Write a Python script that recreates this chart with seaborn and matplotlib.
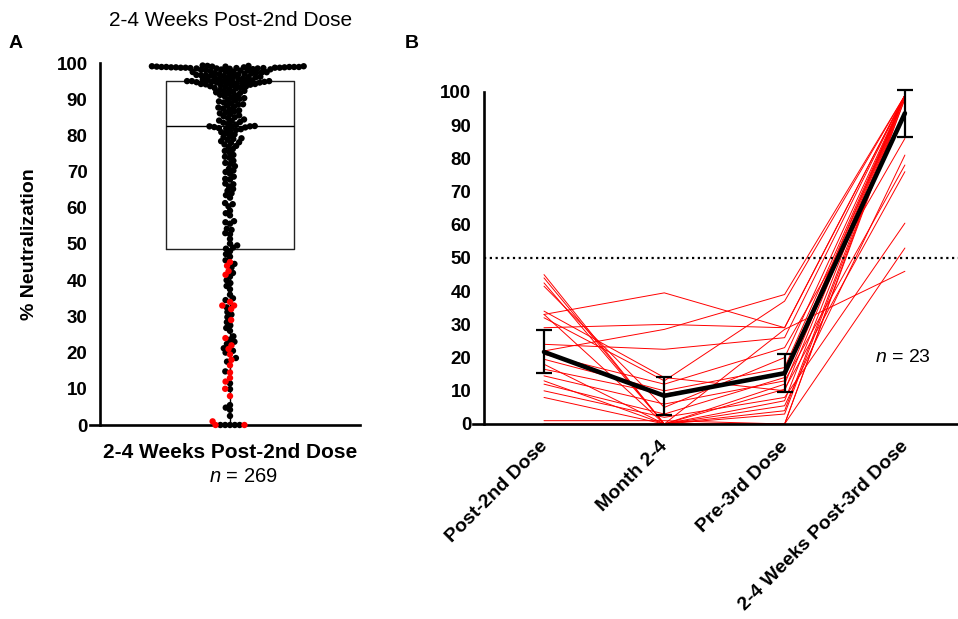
import numpy as np
import pandas as pd
import matplotlib
matplotlib.use("Agg")
import matplotlib.pyplot as plt
import seaborn as sns

sns.set_theme(style="white")
plt.rcParams["font.family"] = ["Liberation Sans", "DejaVu Sans"]
plt.rcParams["mathtext.fontset"] = "custom"
plt.rcParams["mathtext.it"] = "Liberation Sans:italic"
plt.rcParams["mathtext.rm"] = "Liberation Sans"
for key in ["text.color", "axes.labelcolor", "xtick.color", "ytick.color"]:
    plt.rcParams[key] = "black"

# ---------------- Panel B: longitudinal cohort (n = 23) ----------------
timepoints = ["Post-2nd Dose", "Month 2-4", "Pre-3rd Dose", "2-4 Weeks Post-3rd Dose"]
post2 = [45, 44, 42.5, 41.5, 34, 33, 33, 32, 29, 24, 22, 21,
         19.5, 18, 16.5, 14.5, 13, 12, 10, 8, 1, 0, 0]
month24 = [0, 0, 0, 5, 14, 0, 39.5, 13, 30, 22.5, 28.5, 12,
           10, 0, 9, 6, 0, 3, 2, 0, 1, 0, 0]
pre3 = [12, 7, 3, 20, 10, 0, 29, 37, 29, 26, 39, 23,
        17, 5.5, 15, 13, 10.5, 14, 8, 4, 0, 28.5, 0]
post3 = [99, 99, 98, 99, 99, 99, 99, 99, 99, 99, 99, 86,
         99, 81, 99, 78, 76, 99, 60.5, 99, 53, 46, 98]
mean_vals = [21.7, 8.5, 15.3, 93.6]
ci_low = [15.3, 2.8, 9.7, 86.5]
ci_high = [28.3, 14.1, 21.0, 100.7]

# ---------------- Panel A: all participants (n = 269) ----------------
# black points = participants not followed longitudinally, grouped by range
low_vals = [0, 0, 0, 0, 0,
            2.5, 4.2, 4.8, 5.5, 9.9,
            11.5, 14.8, 17.5, 18.5, 20.0,
            20.5, 21.2, 22.4, 23.0, 23.6, 24.5, 26.0, 26.8, 27.5, 28.4, 29.8,
            30.5, 31.2, 32.5, 34.5, 35.0, 36.0, 37.5, 38.4, 39.2, 40.0,
            41.0, 42.0, 43.5, 44.5, 45.5, 46.5, 47.2, 48.0]
mid_vals = [48.7,
            49.0, 49.6, 50.1, 51.4, 52.7, 53.0, 53.9, 54.2, 55.6, 56.0, 56.3,
            57.9, 58.5, 59.2, 60.4, 61.0, 61.3, 62.8,
            63.5, 64.0, 64.7, 65.2, 65.9, 66.5, 66.7, 67.8, 68.0, 68.6, 69.4,
            69.9, 70.3, 70.8, 71.5, 72.1, 72.4, 73.0,
            73.8, 74.1, 74.6, 75.3, 75.7, 76.2, 76.8, 77.1, 77.5, 77.9, 78.4,
            78.8, 79.2, 79.5, 79.9, 80.3, 80.6, 80.9, 81.2, 81.5, 81.7, 81.9,
            82.0, 82.2, 82.3, 82.4, 82.5, 82.5, 79.0, 78.1]
high_vals = [82.6,
             83.0, 83.2, 83.5, 83.7, 84.0, 84.1, 84.4, 84.8, 85.0, 85.3, 85.5,
             85.9, 86.1, 86.4, 86.6, 86.9, 87.2, 87.4, 87.7, 87.9, 88.2, 88.5,
             88.6, 88.9, 89.1, 89.4, 89.6, 89.8, 90.1, 90.3, 90.5, 90.8, 91.0,
             91.2, 91.5, 91.7, 91.9, 92.1, 92.3, 92.6, 92.8, 93.0, 93.1, 93.3,
             93.5, 93.6, 93.8, 93.9, 94.0, 94.1, 94.2, 94.3, 94.4, 94.5, 94.6,
             94.6, 94.7, 94.8, 94.8, 94.9, 94.9, 95.0, 95.0, 94.2, 93.4, 92.0]
upper_vals = [95.0,
              95.1, 95.3, 95.4, 95.6, 95.7, 95.9, 96.0, 96.1, 96.3, 96.4,
              96.6, 96.7, 96.9, 97.0, 97.1, 97.3, 97.4, 97.5, 97.7, 97.8,
              97.9, 98.0, 98.2, 95.2, 95.8, 96.2, 96.5, 96.8, 97.2, 97.6,
              98.1, 98.3, 95.5, 96.95, 97.45, 97.95, 96.55, 98.25]
top_vals = [98.9, 98.7, 99.1, 98.5, 98.8, 99.0, 98.6, 98.9, 99.2, 98.4,
            98.7, 98.8, 99.0, 98.9, 98.6, 99.1, 98.5, 98.7, 98.9, 99.3,
            98.6, 98.8, 99.0, 98.7, 98.9, 98.5, 99.2, 98.8]

group_label = "2-4 Weeks Post-2nd Dose"
black_vals = low_vals + mid_vals + high_vals + upper_vals + top_vals
df_a = pd.DataFrame({
    "group": group_label,
    "value": black_vals + post2,
    "cohort": ["other"] * len(black_vals) + ["longitudinal"] * len(post2),
})

df_b = pd.DataFrame({
    "subject": np.repeat(np.arange(len(post2)), len(timepoints)),
    "visit": np.tile(np.arange(len(timepoints)), len(post2)),
    "value": np.column_stack([post2, month24, pre3, post3]).ravel(),
})

W, H = 958, 619
fig = plt.figure(figsize=(W / 100, H / 100), dpi=100)


def fx(px):
    return px / W


def fy(py):
    return 1 - py / H


axA = fig.add_axes([fx(90), fy(425), (360 - 90) / W, (425 - 63) / H])
axB = fig.add_axes([fx(473), fy(424), (958 - 473) / W, (424 - 92) / H])

spine_w = 1.9
tick_kw = dict(direction="out", width=spine_w, length=7, color="black")

# ---- Panel A ----
sns.boxplot(data=df_a, x="group", y="value", width=0.474, whis=(0, 100),
            showcaps=False, showfliers=False, fill=False, color="#222222",
            linewidth=1.0, ax=axA,
            medianprops=dict(color="black", linewidth=1.0),
            whiskerprops=dict(color="black", linewidth=1.0))
n_before = len(axA.collections)
# the swarm is packed with a compact footprint, then drawn with larger dots
# so that dense regions overlap slightly
sns.swarmplot(data=df_a, x="group", y="value", hue="cohort",
              palette={"other": "black", "longitudinal": "#ff0000"},
              size=3.3, legend=False, ax=axA, zorder=3, clip_on=False)
swarm_colls = axA.collections[n_before:]

axA.set_xlim(-140 / 270, 130 / 270)
axA.set_ylim(0, 100)
axA.set_yticks(range(0, 101, 10))
for side in ["top", "right"]:
    axA.spines[side].set_visible(False)
axA.spines["left"].set_position(("axes", 10 / 270))
for side in ["left", "bottom"]:
    axA.spines[side].set_linewidth(spine_w)
    axA.spines[side].set_color("black")
axA.tick_params(axis="both", **tick_kw)
axA.tick_params(axis="y", labelsize=13.5, pad=2)
axA.tick_params(axis="x", labelbottom=False)
for lab in axA.get_yticklabels():
    lab.set_fontweight("bold")
axA.set_xlabel("")
axA.set_ylabel("% Neutralization", fontsize=14, fontweight="bold")
axA.yaxis.set_label_coords((38 - 90) / 270, 0.5)

fig.text(fx(231), fy(20), group_label, ha="center", va="center", fontsize=15)
fig.text(fx(230), fy(453), group_label, ha="center", va="center",
         fontsize=15, fontweight="bold")
fig.text(fx(243), fy(477), "$n$ = 269", ha="center", va="center", fontsize=14.5)
fig.text(fx(16), fy(43), "A", ha="center", va="center", fontsize=14, fontweight="bold")
fig.text(fx(412), fy(43), "B", ha="center", va="center", fontsize=14, fontweight="bold")

# ---- Panel B ----
pos = np.arange(len(timepoints))
sns.lineplot(data=df_b, x="visit", y="value", units="subject", estimator=None,
             sort=False, color="#ff0000", linewidth=0.7, ax=axB, clip_on=False)
sns.lineplot(x=pos, y=mean_vals, color="black", linewidth=3.3, ax=axB,
             zorder=4, clip_on=False)
axB.errorbar(pos, mean_vals,
             yerr=[np.subtract(mean_vals, ci_low), np.subtract(ci_high, mean_vals)],
             fmt="none", ecolor="black", elinewidth=1.6, capsize=6, capthick=1.6,
             zorder=5, clip_on=False)

x_left, x_right = (473 - 544) / 120.3, (958 - 544) / 120.3
spine_x = -0.5
axB.set_xlim(x_left, x_right)
axB.set_ylim(0, 100)
axB.axhline(50, xmin=(spine_x - x_left) / (x_right - x_left), xmax=1,
            color="black", linestyle=(0, (1, 1.6)), linewidth=1.6)
axB.set_yticks(range(0, 101, 10))
axB.set_xticks(pos)
axB.set_xticklabels(timepoints, rotation=45, ha="right", va="top",
                    rotation_mode="anchor", fontsize=14, fontweight="bold")
for side in ["top", "right"]:
    axB.spines[side].set_visible(False)
axB.spines["left"].set_position(("data", spine_x))
for side in ["left", "bottom"]:
    axB.spines[side].set_linewidth(spine_w)
    axB.spines[side].set_color("black")
axB.tick_params(axis="both", **tick_kw)
axB.tick_params(axis="y", labelsize=13.5, pad=2)
axB.tick_params(axis="x", pad=3)
for lab in axB.get_yticklabels():
    lab.set_fontweight("bold")
for lab in axB.get_xticklabels():
    lab.set_transform(lab.get_transform()
                      + matplotlib.transforms.ScaledTranslation(-5 / 100, 0, fig.dpi_scale_trans))
axB.set_xlabel("")
axB.set_ylabel("")
fig.text(fx(903), fy(357), "$n$ = 23", ha="center", va="center", fontsize=14)

# lay out the swarm once, then freeze its positions and enlarge the dots
fig.canvas.draw()
for coll in swarm_colls:
    if "draw" in coll.__dict__:
        del coll.draw
    coll.set_sizes([4.6 ** 2])

fig.savefig("out.png", dpi=100)
